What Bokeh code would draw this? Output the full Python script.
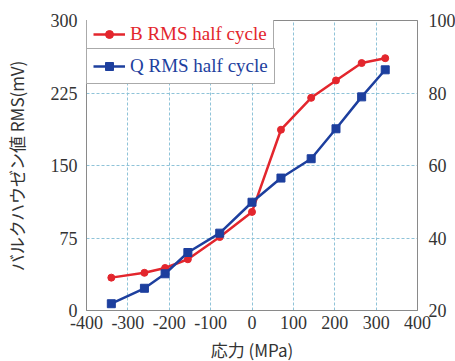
from bokeh.plotting import figure
from bokeh.models import Range1d, LinearAxis, FixedTicker, Legend, LegendItem, PrintfTickFormatter
from bokeh.embed import file_html
from bokeh.resources import INLINE

# data
stress = [-340, -260, -210, -155, -78, 0, 70, 143, 203, 265, 322]
b_rms = [34, 39, 44, 53, 76, 102, 187, 220, 238, 256, 261]
q_rms = [7, 23, 38, 60, 80, 112, 137, 157, 188, 221, 249]
x_ticks = [-400, -300, -200, -100, 0, 100, 200, 300, 400]
y_ticks = [0, 75, 150, 225, 300]
y2_ticks = [20, 40, 60, 80, 100]
b_label = "B RMS half cycle"
q_label = "Q RMS half cycle"
x_title = "応力 (MPa)"
y_title = "バルクハウゼン値 RMS(mV)"

RED = "#e3262d"
BLUE = "#1d3f9e"
GRID = "#8fc3d8"
SERIF = "Liberation Serif"
TICK_FONT = "Liberation Serif, Times New Roman, serif"
SANS = "Noto Sans CJK JP"

p = figure(frame_width=331, frame_height=290, output_backend="svg", toolbar_location=None,
           x_range=Range1d(-400, 400), y_range=Range1d(0, 300),
           min_border_left=83, min_border_top=20, min_border_right=36, min_border_bottom=46)
p.extra_y_ranges = {"right": Range1d(20, 100)}
p.background_fill_color = "white"
p.border_fill_color = "white"
p.outline_line_color = "#8a8a8a"
p.outline_line_width = 1

# axes
left = p.yaxis[0]
bottom = p.xaxis[0]
bottom.ticker = FixedTicker(ticks=x_ticks)
bottom.formatter = PrintfTickFormatter(format="%d")
left.ticker = FixedTicker(ticks=y_ticks)
right = LinearAxis(y_range_name="right", ticker=FixedTicker(ticks=y2_ticks))
p.add_layout(right, "right")

for ax in [bottom, left, right]:
    ax.major_tick_line_color = None
    ax.minor_tick_line_color = None
    ax.major_tick_out = 0
    ax.major_tick_in = 0
    ax.axis_line_color = "#8a8a8a"
    ax.major_label_text_font = TICK_FONT
    ax.major_label_text_font_size = "18px"
    ax.major_label_text_color = "#333333"

left.major_label_standoff = 9
right.major_label_standoff = 11
bottom.major_label_standoff = 5

bottom.axis_label = x_title
left.axis_label = y_title
for ax in [bottom, left]:
    ax.axis_label_text_font = SANS
    ax.axis_label_text_font_size = "17px"
    ax.axis_label_text_font_style = "normal"
    ax.axis_label_text_color = "#333333"
left.axis_label_standoff = 19
bottom.axis_label_standoff = 5

# grid
p.xgrid.ticker = FixedTicker(ticks=[-300, -200, -100, 0, 100, 200, 300])
p.ygrid.ticker = FixedTicker(ticks=[75, 150, 225])
for g in [p.xgrid[0], p.ygrid[0]]:
    g.grid_line_color = GRID
    g.grid_line_dash = "3 2"
    g.grid_line_width = 1

# series
lb = p.line(stress, b_rms, line_color=RED, line_width=2.5)
cb = p.scatter(stress, b_rms, marker="circle", size=7, fill_color=RED, line_color=RED)
lq = p.line(stress, q_rms, line_color=BLUE, line_width=2.5)
cq = p.scatter(stress, q_rms, marker="square", size=8, fill_color=BLUE, line_color=BLUE)

def make_legend(item, color, loc):
    lg = Legend(items=[item], location=loc, margin=0, padding=6, spacing=0,
                glyph_width=32, glyph_height=20, label_height=20, label_standoff=5,
                label_text_font=SERIF, label_text_font_size="19px",
                label_text_color=color, border_line_color="#555555",
                border_line_width=1, background_fill_color="white",
                background_fill_alpha=1.0)
    return lg

leg1 = make_legend(LegendItem(label=b_label, renderers=[lb, cb]), RED, (0, 258))
leg2 = make_legend(LegendItem(label=q_label, renderers=[lq, cq]), BLUE, (0, 226))
p.add_layout(leg1)
p.add_layout(leg2)

open("out.html", "w").write(file_html(p, INLINE))
